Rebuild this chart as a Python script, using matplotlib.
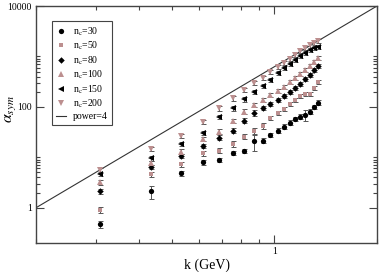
import numpy as np
import matplotlib
matplotlib.use("Agg")
import matplotlib.pyplot as plt
from matplotlib.ticker import FixedLocator, NullFormatter, FixedFormatter

plt.rcParams["font.family"] = "serif"
plt.rcParams["font.serif"] = ["Liberation Serif", "DejaVu Serif"]
plt.rcParams["mathtext.fontset"] = "stix"

# ------------------------------------------------------------
# datos
# ------------------------------------------------------------
k = [0.308, 0.436, 0.534, 0.616, 0.689, 0.755, 0.815, 0.871, 0.924, 0.974,
     1.022, 1.067, 1.111, 1.153, 1.193, 1.232, 1.270, 1.307, 1.343]

nc30  = [0.475, 2.10, 4.87, 8.0, 8.9, 12.4, 13.4, 20.6, 21.5, 27.9,
         34.0, 40.7, 48.9, 57.0, 64.3, 69.5, 80.7, 98.6, 122]
nc50  = [0.91, 4.65, 7.3, 12.1, 13.6, 18.5, 25.8, 34.0, 42.0, 60.5,
         76, 91, 115, 138, 165, 181, 181, 238, 313]
nc80  = [2.1, 6.4, 10.7, 16.9, 24.7, 34, 53.5, 76, 95.5, 115,
         138, 165, 198, 238, 285, 358, 430, 540, 649]
nc100 = [3.17, 7.7, 13.0, 23.0, 32.4, 53.4, 80.7, 110, 138, 173,
         207, 249, 313, 375, 450, 540, 649, 778, 933]
nc150 = [4.65, 9.6, 18.5, 30.2, 62.6, 94, 141, 200, 261, 343,
         471, 592, 710, 853, 1023, 1173, 1345, 1473, 1563]
nc200 = [5.5, 14.5, 26.7, 50, 94, 148, 217, 295, 375, 493,
         620, 743, 891, 1071, 1285, 1473, 1651, 1850, 2028]

# errores relativos (%)
err30  = [15, 30, 12, 12, 10, 10, 10, 35, 10, 10, 10, 10, 10, 10, 10, 25, 10, 10, 10]
err50  = [12, 12, 12, 12, 12, 12, 12, 14, 12, 10, 10, 10, 10, 10, 10, 10, 10, 10, 10]
err80  = [10, 10, 10, 10, 10, 10, 10, 14, 10, 10, 10, 10, 10, 10, 10, 10, 10, 10, 10]
err100 = [10, 10, 10, 10, 10, 10, 10, 10, 10, 10, 10, 10, 10, 10, 10, 10, 10, 10, 10]
err150 = [10, 10, 10, 10, 10, 10, 10, 10, 10, 10, 10, 10, 10, 10, 10, 10, 10, 10, 10]
err200 = [12, 10, 10, 10, 10, 10, 10, 10, 10, 10, 10, 10, 10, 10, 10, 10, 10, 10, 10]

k_linea = [0.2, 2.0]
a_linea = [1.0, 10000.0]

ROSA  = "#bc8f8f"
NEGRO = "black"

series = [
    ("n$_\\mathrm{c}$=30",  nc30,  err30,  "o", NEGRO, 3.8),
    ("n$_\\mathrm{c}$=50",  nc50,  err50,  "s", ROSA,  3.3),
    ("n$_\\mathrm{c}$=80",  nc80,  err80,  "D", NEGRO, 3.3),
    ("n$_\\mathrm{c}$=100", nc100, err100, "^", ROSA,  3.8),
    ("n$_\\mathrm{c}$=150", nc150, err150, "<", NEGRO, 3.8),
    ("n$_\\mathrm{c}$=200", nc200, err200, "v", ROSA,  3.8),
]

# ------------------------------------------------------------
# figura
# ------------------------------------------------------------
fig = plt.figure(figsize=(3.79, 2.72), dpi=100)
ax = fig.add_axes([36 / 379, 1 - 243 / 272, 341 / 379, 237 / 272])

handles = []
for nombre, vals, errs, mk, col, ms in series:
    vals = np.array(vals, dtype=float)
    yerr = vals * np.array(errs) / 100.0
    ax.errorbar(k, vals, yerr=yerr, fmt="none", ecolor="#555555",
                elinewidth=0.7, capsize=1.8, capthick=0.7, zorder=2)
    ax.plot(k, vals, ls="none", marker=mk, color=col, markersize=ms,
            markeredgewidth=0, zorder=3)
    h, = ax.plot([], [], ls="none", marker=mk, color=col, markersize=ms,
                 markeredgewidth=0, label=nombre)
    handles.append(h)

lin, = ax.plot(k_linea, a_linea, color="#333333", lw=0.8, label="power=4", zorder=1)
handles.append(lin)

ax.set_xscale("log")
ax.set_yscale("log")
ax.set_xlim(0.2, 2.0)
ax.set_ylim(0.2, 10000)

ax.xaxis.set_major_locator(FixedLocator([1.0]))
ax.xaxis.set_major_formatter(FixedFormatter(["1"]))
ax.xaxis.set_minor_locator(FixedLocator([0.2, 0.3, 0.4, 0.5, 0.6, 0.7, 0.8, 0.9, 2.0]))
ax.xaxis.set_minor_formatter(NullFormatter())

ax.yaxis.set_major_locator(FixedLocator([1, 100, 10000]))
ax.yaxis.set_major_formatter(FixedFormatter(["1", "100", "10000"]))
ax.yaxis.set_minor_locator(FixedLocator([2, 3, 4, 5, 6, 7, 8, 9, 10,
                                         200, 300, 400, 500, 600, 700, 800, 900, 1000]))
ax.yaxis.set_minor_formatter(NullFormatter())

ax.tick_params(which="both", direction="in", top=True, right=True,
               labelsize=7, width=0.8, color="#444444")
ax.tick_params(which="major", length=6, pad=3)
ax.tick_params(which="minor", length=3)
for s in ax.spines.values():
    s.set_linewidth(1.0)
    s.set_color("#444444")

ax.set_xlabel("k (GeV)", fontsize=10, labelpad=2)
fig.text(0.026, 0.60, "$\\alpha_{sym}$", rotation=90, fontsize=11.5,
         ha="center", va="center")

leg = ax.legend(handles=handles, loc="upper left", bbox_to_anchor=(0.047, 0.937),
                fontsize=7, frameon=True, fancybox=False, framealpha=1,
                edgecolor="#444444", handlelength=1.0, handletextpad=0.7,
                labelspacing=0.2, borderpad=0.45, borderaxespad=0)
leg.get_frame().set_linewidth(0.8)

fig.savefig("out.png", dpi=100)
